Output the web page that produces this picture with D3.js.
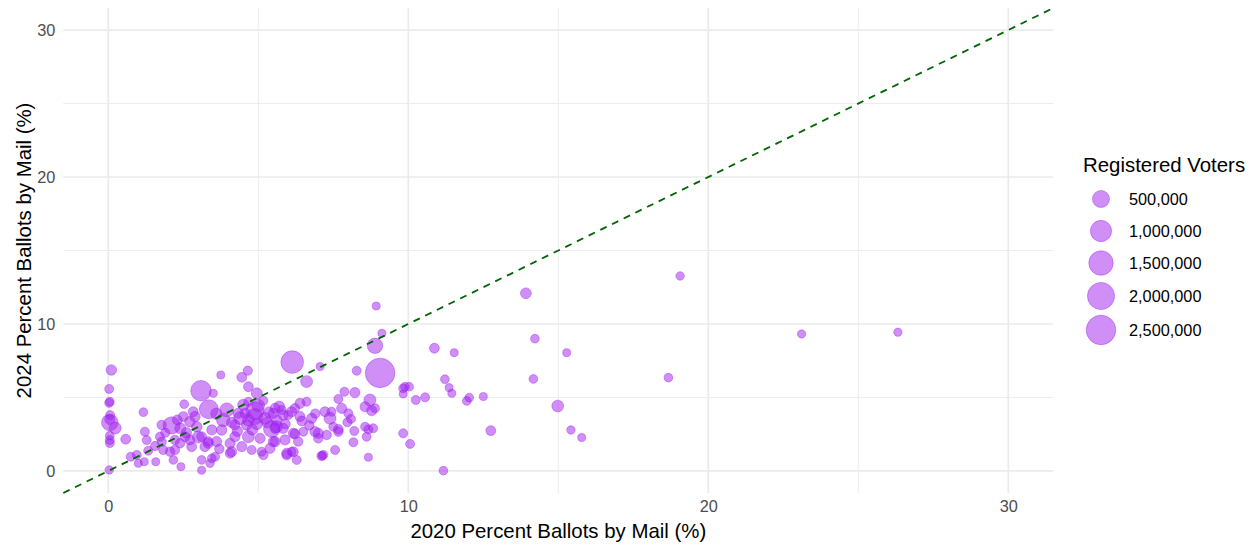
<!DOCTYPE html>
<html>
<head>
<meta charset="utf-8">
<script src="https://cdn.jsdelivr.net/npm/d3@7"></script>
<style>
  html, body { margin: 0; padding: 0; background: #ffffff; }
  svg { display: block; font-family: "Liberation Sans", Arial, Helvetica, sans-serif; }
</style>
</head>
<body>
<svg id="chart" width="1257" height="548"></svg>
<script>
// Percent of ballots cast by mail, per county: 2020 (x) vs 2024 (y), sized by registered voters
const pct2020 = [
  0.10, 0.03, 0.03, 0.05, 0.06, 0.05, 0.05, 0.23, 0.05, 0.05, 0.03, 0.05,
  0.58, 0.75, 0.95, 1.00, 1.20, 1.22, 1.28, 1.33, 1.17, 1.58, 1.56, 1.78,
  1.83, 2.11, 2.17, 2.06, 2.39, 2.42, 2.22, 2.56, 2.78, 2.89, 2.95, 3.11,
  3.11, 3.39, 3.22, 3.33, 2.53, 3.50, 3.09, 3.75, 4.65, 4.45, 4.67, 4.95,
  5.17, 4.67, 6.39, 6.61, 6.61, 7.06, 5.56, 5.78, 6.22, 6.00, 3.95, 3.35,
  4.89, 4.33, 7.22, 3.45, 3.33, 3.61, 3.45, 4.06, 4.11, 4.06, 4.22, 4.22,
  4.45, 4.67, 4.78, 4.89, 5.06, 5.17, 5.11, 5.39, 5.45, 5.61, 5.56, 5.89,
  5.95, 6.17, 6.22, 6.33, 6.50, 6.11, 6.28, 6.78, 6.89, 7.00, 7.17, 5.83,
  6.11, 6.39, 5.22, 4.56, 4.67, 4.11, 3.83, 9.12, 8.28, 8.89, 9.06, 6.13,
  7.87, 8.22, 7.67, 8.72, 8.56, 8.78, 8.89, 7.78, 7.44, 7.39, 8.00, 8.09,
  7.97, 7.67, 7.67, 8.20, 8.56, 8.67, 8.83, 8.61, 8.17, 7.56, 7.13, 8.67,
  7.00, 7.28, 9.83, 10.06, 9.83, 9.89, 10.03, 9.83, 10.25, 10.56, 13.92, 19.06,
  14.22, 11.53, 10.87, 15.28, 11.22, 14.17, 18.67, 11.36, 11.45, 12.03, 11.95, 12.50,
  14.98, 12.75, 15.42, 15.78, 11.17, 23.11, 26.32, 8.93, 5.50, 5.56, 5.83, 5.50,
  5.95, 6.17, 7.11, 2.83, 2.50, 2.30, 1.78, 1.72, 3.11, 2.72, 2.22, 3.56,
  5.61, 4.61, 3.78, 2.72, 4.50, 5.00, 4.30, 5.30, 6.45, 6.70, 2.60, 3.60,
  4.80, 5.90, 7.50, 3.00, 4.40, 5.70, 6.90, 2.40, 3.70, 1.90, 4.95, 5.35
];
const pct2024 = [
  6.87, 5.58, 4.63, 4.72, 3.80, 3.50, 3.30, 2.92, 2.10, 1.90, 0.07, 2.40,
  2.16, 0.97, 1.09, 0.52, 0.63, 2.67, 2.10, 1.38, 4.00, 0.63, 1.70, 1.99,
  1.43, 3.10, 0.75, 1.31, 1.88, 0.29, 1.43, 2.33, 1.65, 3.70, 3.01, 2.33,
  0.75, 0.52, 1.65, 2.00, 4.54, 5.28, 5.46, 6.53, 6.82, 6.37, 5.73, 5.28,
  4.78, 4.71, 4.60, 4.71, 6.08, 7.10, 4.26, 4.15, 4.26, 3.80, 4.15, 4.20,
  4.10, 3.92, 4.03, 2.79, 1.88, 2.00, 0.86, 1.88, 1.31, 1.20, 2.33, 3.13,
  1.65, 2.33, 1.43, 3.70, 2.22, 1.09, 1.31, 1.54, 2.85, 3.01, 2.00, 2.11,
  1.20, 2.56, 2.52, 2.00, 2.67, 1.31, 0.75, 3.58, 2.67, 2.56, 1.09, 3.80,
  4.03, 3.70, 3.58, 3.92, 3.47, 3.30, 3.47, 9.37, 6.82, 8.52, 6.67, 7.41,
  5.39, 5.33, 4.90, 4.83, 4.37, 4.10, 4.26, 4.26, 4.03, 3.58, 3.92, 3.54,
  3.31, 2.83, 2.67, 2.72, 3.01, 2.83, 2.90, 2.33, 1.95, 1.43, 1.04, 0.93,
  2.22, 2.45, 2.56, 1.84, 5.62, 5.73, 5.73, 5.24, 4.83, 5.01, 12.09, 13.27,
  9.00, 8.05, 8.35, 8.05, 6.24, 6.26, 6.35, 5.67, 5.28, 4.99, 4.76, 5.06,
  4.42, 2.74, 2.79, 2.27, 0.02, 9.32, 9.44, 11.22, 3.92, 2.90, 2.90, 2.00,
  1.09, 1.31, 1.02, 4.03, 3.70, 3.47, 3.13, 2.33, 0.05, 2.11, 2.11, 0.97,
  3.47, 3.13, 2.79, 3.35, 4.50, 4.45, 2.70, 3.30, 3.40, 3.10, 2.60, 3.90,
  2.80, 3.20, 3.00, 2.30, 3.60, 4.40, 3.90, 2.90, 1.50, 2.60, 3.20, 4.00
];
const registeredVoters = [
  60000, 20000, 20000, 15000, 20000, 45000, 450000, 120000, 20000, 20000, 10000, 15000,
  40000, 20000, 20000, 5000, 5000, 20000, 20000, 20000, 15000, 5000, 25000, 25000,
  25000, 500000, 15000, 30000, 30000, 5000, 30000, 40000, 40000, 60000, 60000, 40000,
  15000, 10000, 40000, 40000, 15000, 5000, 900000, 5000, 25000, 40000, 40000, 80000,
  20000, 20000, 50000, 20000, 120000, 5000, 50000, 20000, 30000, 20000, 250000, 700000,
  600000, 50000, 40000, 50000, 50000, 50000, 15000, 50000, 50000, 40000, 50000, 50000,
  50000, 120000, 20000, 400000, 50000, 30000, 20000, 50000, 450000, 120000, 50000, 50000,
  50000, 50000, 40000, 30000, 20000, 20000, 20000, 50000, 50000, 50000, 20000, 50000,
  50000, 50000, 120000, 50000, 120000, 50000, 200000, 5000, 20000, 350000, 2500000, 1200000,
  20000, 50000, 20000, 120000, 50000, 50000, 20000, 50000, 20000, 120000, 20000, 20000,
  20000, 40000, 30000, 20000, 20000, 20000, 20000, 20000, 20000, 20000, 5000, 5000,
  30000, 30000, 20000, 20000, 20000, 15000, 15000, 5000, 20000, 20000, 70000, 10000,
  15000, 5000, 40000, 5000, 15000, 15000, 15000, 5000, 5000, 15000, 15000, 5000,
  110000, 40000, 10000, 5000, 15000, 8000, 8000, 5000, 50000, 50000, 50000, 50000,
  40000, 40000, 30000, 40000, 40000, 40000, 30000, 20000, 5000, 40000, 30000, 20000,
  60000, 60000, 60000, 60000, 90000, 150000, 60000, 80000, 40000, 30000, 60000, 90000,
  70000, 40000, 20000, 120000, 180000, 60000, 30000, 80000, 30000, 25000, 100000, 60000
];
const axisTicks = [0, 10, 20, 30];
const minorTicks = [5, 15, 25];
const legendValues = [500000, 1000000, 1500000, 2000000, 2500000];

const xTitle = "2020 Percent Ballots by Mail (%)";
const yTitle = "2024 Percent Ballots by Mail (%)";
const legendTitle = "Registered Voters";

const svg = d3.select("#chart");
const panel = { left: 63.3, right: 1053.3, top: 8, bottom: 493 };

const x = d3.scaleLinear().domain([-1.5, 31.5]).range([panel.left, panel.right]);
const y = d3.scaleLinear().domain([-1.5, 31.5]).range([panel.bottom, panel.top]);
const r = d3.scaleSqrt().domain([0, 2600000]).range([3.5, 15]);

const pointFill = "#A020F0";
const gridColor = "#EBEBEB";

// grid: minor lines thinner than major ones
const grid = svg.append("g");
grid.selectAll(".vminor").data(minorTicks).join("line")
  .attr("x1", d => x(d)).attr("x2", d => x(d))
  .attr("y1", panel.top).attr("y2", panel.bottom)
  .attr("stroke", gridColor).attr("stroke-width", 0.9);
grid.selectAll(".hminor").data(minorTicks).join("line")
  .attr("y1", d => y(d)).attr("y2", d => y(d))
  .attr("x1", panel.left).attr("x2", panel.right)
  .attr("stroke", gridColor).attr("stroke-width", 0.9);
grid.selectAll(".vmajor").data(axisTicks).join("line")
  .attr("x1", d => x(d)).attr("x2", d => x(d))
  .attr("y1", panel.top).attr("y2", panel.bottom)
  .attr("stroke", gridColor).attr("stroke-width", 1.7);
grid.selectAll(".hmajor").data(axisTicks).join("line")
  .attr("y1", d => y(d)).attr("y2", d => y(d))
  .attr("x1", panel.left).attr("x2", panel.right)
  .attr("stroke", gridColor).attr("stroke-width", 1.7);

// counties
const points = pct2020.map((v, i) => ({ x: v, y: pct2024[i], n: registeredVoters[i] }));
svg.append("g").selectAll("circle").data(points).join("circle")
  .attr("cx", d => x(d.x)).attr("cy", d => y(d.y)).attr("r", d => r(d.n))
  .attr("fill", pointFill).attr("fill-opacity", 0.5)
  .attr("stroke", pointFill).attr("stroke-opacity", 0.5).attr("stroke-width", 0.8);

// y = x reference line
svg.append("line")
  .attr("x1", x(-1.5)).attr("y1", y(-1.5))
  .attr("x2", x(31.5)).attr("y2", y(31.5))
  .attr("stroke", "#006400").attr("stroke-width", 1.8)
  .attr("stroke-dasharray", "7,6");

// axes (labels only, no ticks or domain line)
const xAxis = svg.append("g").attr("transform", `translate(0,${panel.bottom})`)
  .call(d3.axisBottom(x).tickValues(axisTicks).tickSize(0).tickPadding(7).tickFormat(d3.format("d")));
const yAxis = svg.append("g").attr("transform", `translate(${panel.left},0)`)
  .call(d3.axisLeft(y).tickValues(axisTicks).tickSize(0).tickPadding(8).tickFormat(d3.format("d")));
[xAxis, yAxis].forEach(g => {
  g.select(".domain").remove();
  g.selectAll("text").attr("fill", "#4D4D4D").style("font-size", "16.3px")
    .style("font-family", "'Liberation Sans', Arial, sans-serif");
});

// axis titles
svg.append("text")
  .attr("x", (panel.left + panel.right) / 2).attr("y", 538)
  .attr("text-anchor", "middle").attr("fill", "#000")
  .style("font-size", "20.4px").text(xTitle);
svg.append("text")
  .attr("transform", `translate(31,${(panel.top + panel.bottom) / 2}) rotate(-90)`)
  .attr("text-anchor", "middle").attr("fill", "#000")
  .style("font-size", "20.4px").text(yTitle);

// size legend
const legend = svg.append("g");
legend.append("text").attr("x", 1083).attr("y", 172)
  .attr("fill", "#000").style("font-size", "20.4px").text(legendTitle);
const legendY = d3.scaleOrdinal().domain(legendValues).range([199, 231, 263, 296, 330]);
const items = legend.selectAll(".item").data(legendValues).join("g")
  .attr("transform", d => `translate(0,${legendY(d)})`);
items.append("circle").attr("cx", 1101).attr("cy", 0).attr("r", d => r(d))
  .attr("fill", pointFill).attr("fill-opacity", 0.5)
  .attr("stroke", pointFill).attr("stroke-opacity", 0.5).attr("stroke-width", 0.8);
items.append("text").attr("x", 1129).attr("y", 0).attr("dy", "0.36em")
  .attr("fill", "#000").style("font-size", "16.3px")
  .text(d => d3.format(",")(d));
</script>
</body>
</html>
